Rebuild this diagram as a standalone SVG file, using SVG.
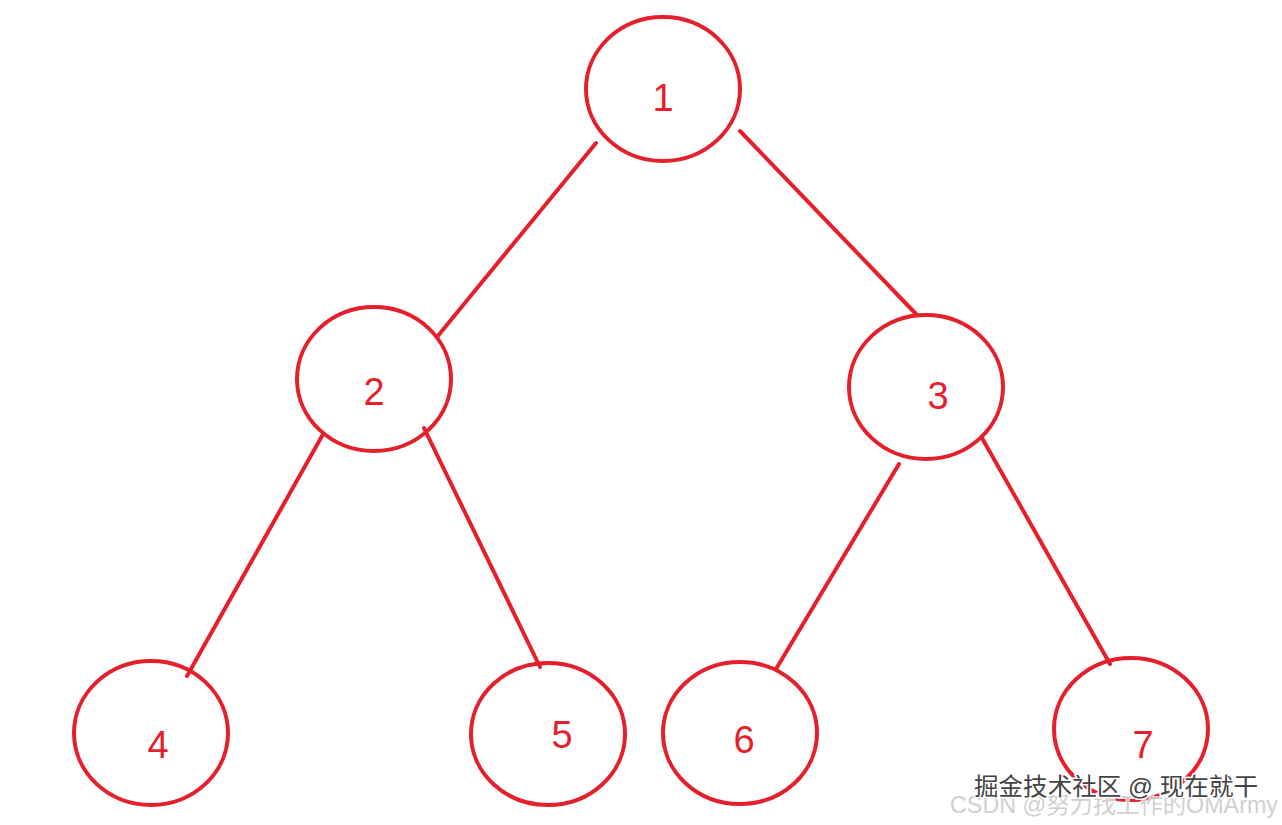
<svg xmlns="http://www.w3.org/2000/svg" width="1282" height="825" viewBox="0 0 1282 825">
<style>
.n{fill:none;stroke:#e51f2b;stroke-width:4}
.e{stroke:#e51f2b;stroke-width:4;stroke-linecap:round}
.t{font-family:"Liberation Sans",Arial,sans-serif;font-size:38px;fill:#e51f2b;text-anchor:middle}
.w1{font-family:"Liberation Sans","Noto Sans CJK SC",sans-serif;font-size:24px;fill:#444;stroke:#fff;stroke-width:3;paint-order:stroke}
.w2{font-family:"Liberation Sans","Noto Sans CJK SC",sans-serif;font-size:23px;fill:#ccc;stroke:#fff;stroke-width:2;paint-order:stroke;opacity:0.9}
</style>
<rect width="1282" height="825" fill="#fff"/>
<g id="connectors">
<line class="e" x1="596" y1="143" x2="437" y2="337"/>
<line class="e" x1="740" y1="131" x2="916" y2="314"/>
<line class="e" x1="322" y1="436" x2="187" y2="676"/>
<line class="e" x1="424" y1="428" x2="540" y2="667"/>
<line class="e" x1="899" y1="464" x2="776" y2="669"/>
<line class="e" x1="982" y1="438" x2="1110" y2="664"/>
</g>
<g id="n1"><ellipse class="n" cx="663" cy="89" rx="77" ry="72"/><text class="t" x="663" y="111">1</text></g>
<g id="n2"><ellipse class="n" cx="374" cy="379" rx="77" ry="72"/><text class="t" x="374" y="405">2</text></g>
<g id="n3"><ellipse class="n" cx="926" cy="387" rx="77" ry="72"/><text class="t" x="938" y="409">3</text></g>
<g id="n4"><ellipse class="n" cx="151" cy="733" rx="77" ry="72"/><text class="t" x="158" y="758">4</text></g>
<g id="n5"><ellipse class="n" cx="548" cy="734" rx="77" ry="71"/><text class="t" x="562" y="748">5</text></g>
<g id="n6"><ellipse class="n" cx="740" cy="733" rx="77" ry="71"/><text class="t" x="744" y="753">6</text></g>
<g id="n7"><ellipse class="n" cx="1131" cy="729" rx="77" ry="71"/><text class="t" x="1143" y="758">7</text></g>
<g id="watermark">
<text class="w2" x="950" y="813" textLength="328" lengthAdjust="spacingAndGlyphs">CSDN @努力找工作的OMArmy</text>
<text class="w1" x="974" y="795" textLength="284" lengthAdjust="spacingAndGlyphs">掘金技术社区 @ 现在就干</text>
</g>
</svg>
